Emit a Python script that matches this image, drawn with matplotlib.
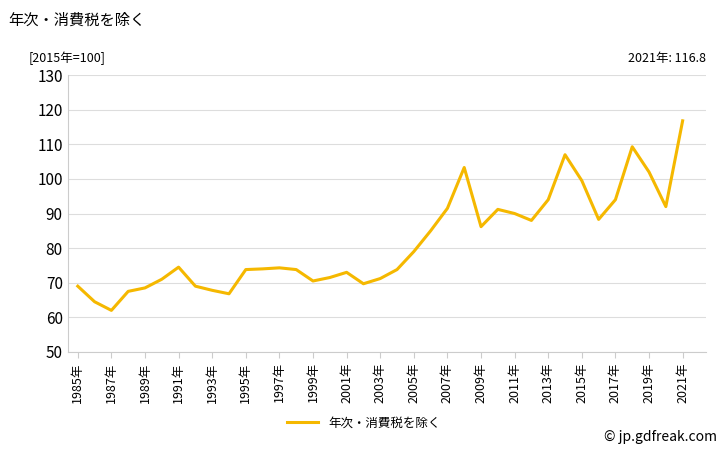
import matplotlib.pyplot as plt

plt.rcParams['font.family'] = ['Noto Sans CJK JP', 'DejaVu Sans']

years = list(range(1985, 2022))
values = [69, 64.5, 62, 67.5, 68.5, 71, 74.5, 69, 67.8, 66.8,
          73.8, 74, 74.3, 73.8, 70.5, 71.5, 73, 69.7, 71.2, 73.8,
          79, 85, 91.5, 103.3, 86.2, 91.2, 90, 88, 94, 107,
          99.5, 88.3, 94, 109.3, 102, 92, 116.8]
tick_years = years[::2]
tick_labels = [f'{y}年' for y in tick_years]

fig = plt.figure(figsize=(7.28, 4.5), dpi=100)
ax = fig.add_axes([0.093, 0.218, 0.877, 0.615])
ax.plot(years, values, color='#f5b800', lw=2.2, label='年次・消費税を除く')
ax.set_ylim(50, 130)
ax.set_xlim(1984.4, 2022.4)
ax.set_yticks(range(50, 131, 10))
ax.set_xticks(tick_years)
ax.set_xticklabels(tick_labels, rotation=90, fontsize=9)
ax.tick_params(axis='y', labelsize=11, length=0)
ax.tick_params(axis='x', length=4, color='#cccccc')
ax.grid(axis='y', color='#dddddd', lw=0.8)
for s in ['top', 'right']:
    ax.spines[s].set_visible(False)
ax.spines['left'].set_color('#cccccc')
ax.spines['bottom'].set_color('#cccccc')

fig.text(0.012, 0.945, '年次・消費税を除く', fontsize=11)
fig.text(0.04, 0.862, '[2015年=100]', fontsize=9)
fig.text(0.97, 0.862, '2021年: 116.8', fontsize=9, ha='right')
fig.text(0.985, 0.02, '© jp.gdfreak.com', fontsize=10, ha='right')
fig.legend(loc='lower center', bbox_to_anchor=(0.5, 0.02), frameon=False,
           fontsize=9, handlelength=2.5)
fig.savefig('out.png')
